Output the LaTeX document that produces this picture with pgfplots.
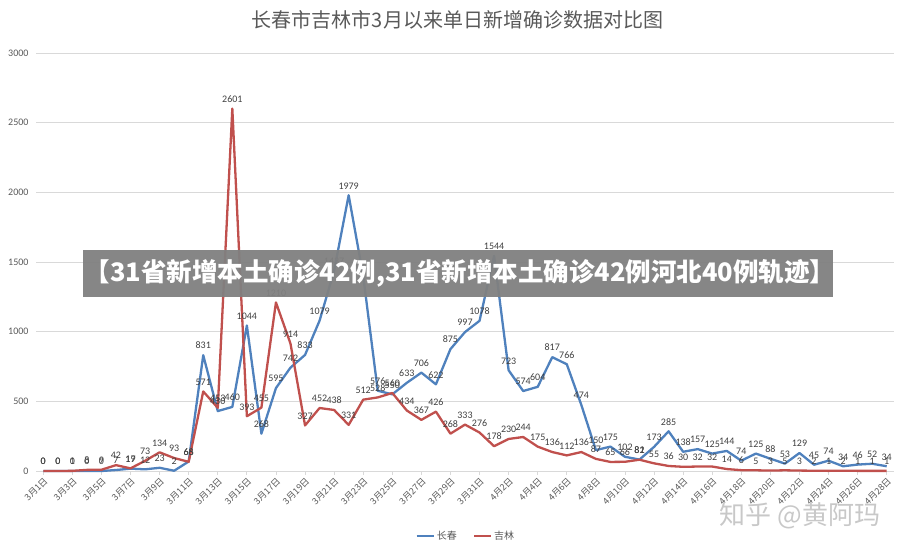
\documentclass[border=0pt]{standalone}
\usepackage{fontspec}
\setmainfont{Carlito}
\newfontfamily\cjk{Noto Sans CJK SC}
\usepackage{pgfplots}
\pgfplotsset{compat=1.18}
\definecolor{cc}{HTML}{4F81BD}
\definecolor{jl}{HTML}{C0504D}
\definecolor{txt}{HTML}{595959}
\definecolor{lbl}{HTML}{404040}
\definecolor{gridc}{HTML}{D9D9D9}
\pgfplotstableread{
x cc jl
0 0 0
1 0 0
2 0 1
3 0 8
4 0 9
5 7 42
6 17 19
7 12 73
8 23 134
9 2 93
10 68 66
11 831 571
12 430 453
13 460 2601
14 1044 393
15 268 455
16 595 1210
17 742 914
18 833 327
19 1079 452
20 1437 438
21 1979 331
22 1400 512
23 576 528
24 550 560
25 633 434
26 706 367
27 622 426
28 875 268
29 997 333
30 1078 276
31 1544 178
32 723 230
33 574 244
34 604 175
35 817 136
36 766 112
37 474 136
38 150 87
39 175 65
40 102 66
41 82 81
42 173 55
43 285 36
44 138 30
45 157 32
46 125 32
47 144 14
48 74 6
49 125 5
50 88 3
51 53 5
52 129 3
53 45 2
54 74 1
55 34 2
56 46 1
57 52 1
58 34 1
}\datatable
\begin{document}
\begin{tikzpicture}[x=1pt,y=1pt]
\path[use as bounding box] (0,0) rectangle (915,553);
\begin{axis}[
  at={(36pt,82pt)}, anchor=south west,
  scale only axis, width=858pt, height=418pt,
  xmin=-0.5, xmax=58.5, ymin=0, ymax=3000,
  ytick={0,500,...,3000},
  xtick={0,2,...,58},
  xticklabels={3月1日,3月3日,3月5日,3月7日,3月9日,3月11日,3月13日,3月15日,3月17日,3月19日,3月21日,3月23日,3月25日,3月27日,3月29日,3月31日,4月2日,4月4日,4月6日,4月8日,4月10日,4月12日,4月14日,4月16日,4月18日,4月20日,4月22日,4月24日,4月26日,4月28日},
  x tick label style={rotate=45, anchor=north east, font=\cjk\fontsize{9}{9}\selectfont, text=txt, inner sep=1pt},
  y tick label style={font=\fontsize{10}{10}\selectfont, text=txt},
  /pgf/number format/assume math mode=true,
  /pgf/number format/1000 sep={},
  ymajorgrids, grid style={draw=gridc, line width=0.8pt},
  axis x line*=bottom, axis y line*=left,
  separate axis lines,
  x axis line style={draw=gridc, line width=0.8pt},
  y axis line style={draw=none},
  tick align=outside,
  major tick length=4pt,
  xtick style={draw=gridc, line width=0.8pt},
  ytick style={draw=none},
  clip=false,
  nodes near coords,
  every node near coord/.append style={font=\fontsize{10}{10}\selectfont, text=lbl, anchor=south, yshift=4pt, inner sep=1pt},
  legend style={at={(axis description cs:0.501,-0.1555)}, anchor=center, draw=none, fill=none, font=\cjk\fontsize{10}{10}\selectfont, text=txt, legend columns=2, /tikz/every even column/.append style={column sep=14pt}},
]
\addplot[cc, line width=2.3pt, line join=round] table[x=x, y=cc] {\datatable};
\addlegendentry{长春}
\addplot[jl, line width=2.3pt, line join=round] table[x=x, y=jl] {\datatable};
\addlegendentry{吉林}
\end{axis}
\node[text=txt] at (457.5,533) {\cjk\fontsize{20}{20}\selectfont 长春市吉林市3月以来单日新增确诊数据对比图};
\fill[fill={rgb,255:red,128;green,128;blue,128}, fill opacity=0.95] (83,256) rectangle (833,303);
\node[text=white] at (460,279.5) {\cjk\bfseries\fontsize{25.5}{25.5}\selectfont 【31省新增本土确诊42例,31省新增本土确诊42例河北40例轨迹】};
\node[text={rgb,255:red,200;green,200;blue,200}] at (800,37) {\cjk\fontsize{26}{26}\selectfont 知乎 @黄阿玛};
\end{tikzpicture}
\end{document}
